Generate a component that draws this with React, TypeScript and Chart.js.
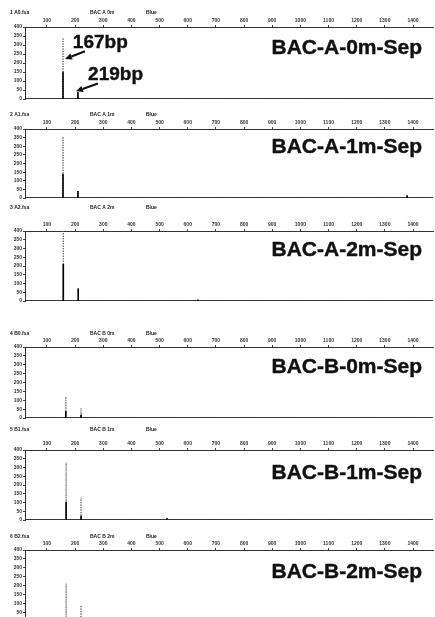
import React, { useEffect, useRef } from 'react';
import { Chart, registerables } from 'chart.js';

Chart.register(...registerables);

// ---------- data ----------
const SAMPLE_TITLES = ['BAC-A-0m-Sep', 'BAC-A-1m-Sep', 'BAC-A-2m-Sep', 'BAC-B-0m-Sep', 'BAC-B-1m-Sep', 'BAC-B-2m-Sep'];
const HEADER_LEFT = ['1 A0.fsa', '2 A1.fsa', '3 A2.fsa', '4 B0.fsa', '5 B1.fsa', '6 B2.fsa'];
const HEADER_MID = ['BAC A 0m', 'BAC A 1m', 'BAC A 2m', 'BAC B 0m', 'BAC B 1m', 'BAC B 2m'];
const HEADER_RIGHT = ['Blue', 'Blue', 'Blue', 'Blue', 'Blue', 'Blue'];
const X_TICKS = [100, 200, 300, 400, 500, 600, 700, 800, 900, 1000, 1100, 1200, 1300, 1400];
const Y_MAX = [400, 400, 400, 400, 400, 400];
// peak positions (scan units): 167bp and 219bp fragments
const MAIN_PEAK_POS = [157, 157, 158, 167, 168, 168];
const SECOND_PEAK_POS = [210, 210, 211, 221, 221, 221];
// full peak heights (RFU) and the dense (solid) part of each peak
const MAIN_HEIGHT = [340, 356, 420, 120, 328, 212];
const MAIN_CORE = [152, 140, 212, 40, 104, 4];
const SECOND_HEIGHT = [38, 40, 72, 56, 128, 88];
const SECOND_CORE = [38, 40, 72, 18, 24, 4];
const MINOR_PEAK_POS = [0, 1379, 636, 0, 526, 0];
const MINOR_PEAK_HEIGHT = [0, 16, 8, 0, 12, 0];
const PEAK_LABELS = ['167bp', '219bp'];
// annotation anchors for the first panel, in data units
const LABEL_X = [192, 246];
const LABEL_Y = [285, 104];
const ARROW_FROM_X = [235, 281];
const ARROW_FROM_Y = [265, 86];
const ARROW_TO_X = [164, 203];
const ARROW_TO_Y = [222, 43];

// ---------- layout ----------
const X_MIN = 22;
const X_MAX = 1471;
const AXIS_TOP_SPACE = 28;
const PANEL_TOP_LINE = [27, 129, 231, 347, 450, 550];
const PANEL_PLOT_H = [74, 71, 72, 73, 72, 73];
const HEADER_OFFSET = [14, 14, 23, 13, 20, 13];
const TITLE_BASE = [27, 24, 25, 26, 29, 28];
const FONT = '"Liberation Sans", Arial, Helvetica, sans-serif';

function buildSeries(i: number, core: boolean) {
  const peaks: { x: number; h: number }[] = [
    { x: MAIN_PEAK_POS[i], h: core ? MAIN_CORE[i] : MAIN_HEIGHT[i] },
    { x: SECOND_PEAK_POS[i], h: core ? SECOND_CORE[i] : SECOND_HEIGHT[i] },
  ];
  if (core && MINOR_PEAK_HEIGHT[i] > 0) peaks.push({ x: MINOR_PEAK_POS[i], h: MINOR_PEAK_HEIGHT[i] });
  peaks.sort((a, b) => a.x - b.x);
  const pts: { x: number; y: number }[] = [{ x: X_MIN, y: 0 }];
  peaks.forEach((p) => {
    pts.push({ x: p.x, y: 0 }, { x: p.x, y: p.h }, { x: p.x, y: 0 });
  });
  pts.push({ x: X_MAX, y: 0 });
  return pts;
}

function drawArrow(ctx: CanvasRenderingContext2D, x1: number, y1: number, x2: number, y2: number) {
  const ang = Math.atan2(y2 - y1, x2 - x1);
  const hl = 7;
  const hw = 3.2;
  const bx = x2 - hl * Math.cos(ang);
  const by = y2 - hl * Math.sin(ang);
  ctx.save();
  ctx.strokeStyle = '#111';
  ctx.fillStyle = '#111';
  ctx.lineWidth = 2.2;
  ctx.beginPath();
  ctx.moveTo(x1, y1);
  ctx.lineTo(bx, by);
  ctx.stroke();
  ctx.beginPath();
  ctx.moveTo(x2, y2);
  ctx.lineTo(bx + hw * Math.sin(ang), by - hw * Math.cos(ang));
  ctx.lineTo(bx - hw * Math.sin(ang), by + hw * Math.cos(ang));
  ctx.closePath();
  ctx.fill();
  ctx.restore();
}

function Panel({ index }: { index: number }) {
  const ref = useRef<HTMLCanvasElement | null>(null);
  const height = AXIS_TOP_SPACE + PANEL_PLOT_H[index] + 2;
  const top = PANEL_TOP_LINE[index] - AXIS_TOP_SPACE;

  useEffect(() => {
    if (!ref.current) return;
    const textPlugin = {
      id: 'panelText',
      afterDraw(chart: any) {
        const { ctx, chartArea, scales } = chart;
        ctx.save();
        ctx.fillStyle = '#222';
        ctx.font = `bold 5px ${FONT}`;
        ctx.textBaseline = 'middle';
        ctx.textAlign = 'left';
        const hy = chartArea.top - HEADER_OFFSET[index];
        ctx.fillText(HEADER_LEFT[index], 10, hy);
        ctx.fillText(HEADER_MID[index], 90, hy);
        ctx.fillText(HEADER_RIGHT[index], 146, hy);

        ctx.fillStyle = '#111';
        ctx.strokeStyle = '#111';
        ctx.lineWidth = 0.4;
        ctx.lineJoin = 'round';
        ctx.font = `bold 21px ${FONT}`;
        ctx.textAlign = 'right';
        ctx.textBaseline = 'alphabetic';
        const ty = chartArea.top + TITLE_BASE[index];
        ctx.fillText(SAMPLE_TITLES[index], 422, ty);
        ctx.strokeText(SAMPLE_TITLES[index], 422, ty);

        if (index === 0) {
          const xs = scales.x;
          const ys = scales.y;
          ctx.font = `bold 19px ${FONT}`;
          ctx.textAlign = 'left';
          ctx.lineWidth = 0.4;
          PEAK_LABELS.forEach((lab, k) => {
            const lx = xs.getPixelForValue(LABEL_X[k]);
            const ly = ys.getPixelForValue(LABEL_Y[k]);
            ctx.fillText(lab, lx, ly);
            ctx.strokeText(lab, lx, ly);
            drawArrow(
              ctx,
              xs.getPixelForValue(ARROW_FROM_X[k]),
              ys.getPixelForValue(ARROW_FROM_Y[k]),
              xs.getPixelForValue(ARROW_TO_X[k]),
              ys.getPixelForValue(ARROW_TO_Y[k])
            );
          });
        }
        ctx.restore();
      },
    };

    const chart = new Chart(ref.current, {
      type: 'line',
      data: {
        datasets: [
          {
            label: 'core',
            data: buildSeries(index, true),
            borderColor: '#000',
            borderWidth: 1.6,
            pointRadius: 0,
            tension: 0,
          },
          {
            label: 'trace',
            data: buildSeries(index, false),
            borderColor: '#555',
            borderWidth: 1,
            borderDash: [1, 1.5],
            pointRadius: 0,
            tension: 0,
          },
        ],
      },
      options: {
        animation: false,
        responsive: false,
        devicePixelRatio: 1,
        layout: { padding: { left: 0, right: 2, top: 0, bottom: 2 } },
        plugins: { legend: { display: false }, tooltip: { enabled: false }, title: { display: false } },
        scales: {
          x: {
            type: 'linear',
            position: 'top',
            min: X_MIN,
            max: X_MAX,
            afterBuildTicks: (s: any) => {
              s.ticks = X_TICKS.map((v) => ({ value: v }));
            },
            afterFit: (s: any) => {
              s.height = AXIS_TOP_SPACE;
            },
            ticks: {
              autoSkip: false,
              maxRotation: 0,
              padding: 1,
              color: '#333',
              callback: (v: any) => String(v),
              font: { size: 5, weight: 'bold', family: FONT },
            },
            grid: { drawOnChartArea: false, drawTicks: true, tickLength: 2, color: '#444' },
            border: { display: true, dash: [1, 1.5], color: '#333', width: 1 },
          },
          y: {
            type: 'linear',
            min: 0,
            max: Y_MAX[index],
            afterFit: (s: any) => {
              s.width = 25;
            },
            ticks: {
              autoSkip: false,
              stepSize: Y_MAX[index] / 8,
              padding: 1,
              color: '#333',
              font: { size: 5, weight: 'bold', family: FONT },
            },
            grid: { drawOnChartArea: false, drawTicks: true, tickLength: 2, color: '#444' },
            border: { display: true, dash: [1, 1.5], color: '#333', width: 1 },
          },
        },
      } as any,
      plugins: [textPlugin],
    });
    return () => chart.destroy();
  }, [index]);

  return (
    <div style={{ position: 'absolute', left: 0, top, width: 435, height }}>
      <canvas ref={ref} width={435} height={height} style={{ display: 'block' }} />
    </div>
  );
}

export default function App() {
  return (
    <div
      style={{
        position: 'absolute',
        left: 0,
        top: 0,
        width: 435,
        height: 617,
        overflow: 'hidden',
        background: '#fff',
      }}
    >
      {SAMPLE_TITLES.map((_, i) => (
        <Panel key={i} index={i} />
      ))}
    </div>
  );
}
